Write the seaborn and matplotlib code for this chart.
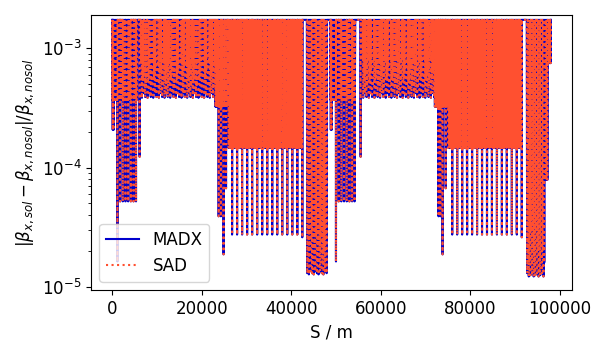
import numpy as np
import pandas as pd
import matplotlib
matplotlib.use('Agg')
import matplotlib.pyplot as plt
import seaborn as sns


####
#   Values
####
TOP = 1.73e-3          # upper turning point of the beat, all round the ring

# oscillating stretches: start / end in S (m) and the lower turning points they cycle through
band_start = [0, 6400, 23000, 25900, 43500, 48700, 55800, 72000, 75000, 92600, 96600, 97300]
band_end = [5600, 23000, 25800, 42600, 48000, 54300, 72000, 74900, 91600, 96600, 97300, 98000]
band_lows = [
    [3.69e-4],
    [7.5e-4, 3.84e-4, 5.5e-4, 4.2e-4, 6.5e-4, 3.9e-4, 4.8e-4],
    [3.23e-4],
    [1.46e-4],
    [1.3e-5, 1.6e-5, 1.27e-5, 2.0e-5, 1.35e-5, 2.6e-5],
    [3.69e-4],
    [8.0e-4, 3.84e-4, 5.5e-4, 4.2e-4, 6.5e-4, 3.9e-4, 4.8e-4],
    [3.23e-4],
    [1.46e-4],
    [1.3e-5, 2.0e-5, 1.22e-5, 1.6e-5, 1.25e-5, 3.0e-5],
    [7.9e-5],
    [7.5e-4],
]

# single dips: position in S (m) and how deep they go
dip_s = [150, 350, 1200, 1800, 2400, 3000, 3600, 4200, 4800, 5350, 6150,
         23800, 24300, 24900, 25450,
         26800, 27920, 29040, 30160, 31280, 32400, 33520, 34640, 35760, 36880,
         38000, 39120, 40240, 41360, 42480,
         48850, 49050, 50000, 50600, 51200, 51800, 52400, 53000, 53600, 54150, 55500,
         72900, 73300, 73800, 74500,
         75950, 77060, 78170, 79280, 80390, 81500, 82610, 83720, 84830, 85940,
         87050, 88160, 89270, 90380, 91490]
dip_depth = [2.07e-4, 2.07e-4, 1.63e-5, 5.2e-5, 5.2e-5, 5.2e-5, 5.2e-5, 5.2e-5, 5.2e-5, 5.2e-5, 1.23e-4,
             3.9e-5, 3.9e-5, 1.87e-5, 6.7e-5,
             2.74e-5, 2.74e-5, 2.74e-5, 2.74e-5, 2.74e-5, 2.74e-5, 2.74e-5, 2.74e-5, 2.74e-5, 2.74e-5,
             2.74e-5, 2.74e-5, 2.74e-5, 2.74e-5, 2.6e-5,
             2.07e-4, 2.07e-4, 1.63e-5, 5.2e-5, 5.2e-5, 5.2e-5, 5.2e-5, 5.2e-5, 5.2e-5, 5.2e-5, 1.23e-4,
             3.9e-5, 3.9e-5, 1.87e-5, 6.7e-5,
             2.74e-5, 2.74e-5, 2.74e-5, 2.74e-5, 2.74e-5, 2.74e-5, 2.74e-5, 2.74e-5, 2.74e-5, 2.74e-5,
             2.74e-5, 2.74e-5, 2.74e-5, 2.74e-5, 2.6e-5]


###
#   Build the beat curve
###
pts = []
for s0, s1, lows in zip(band_start, band_end, band_lows):
    n = int(round((s1 - s0) / 90.0))
    for k, sk in enumerate(np.linspace(s0, s1, n + 1)):
        pts.append((sk, TOP if k % 2 == 0 else lows[(k // 2) % len(lows)]))
    if n % 2 == 1:
        pts.append((s1 + 1, TOP))

for s, d in zip(dip_s, dip_depth):
    pts += [(s - 40, TOP), (s, d), (s + 40, TOP)]

df = pd.DataFrame(pts, columns=['S', 'beat']).sort_values('S', kind='stable')


###
#   Plot
###
plt.rcParams['font.size'] = 12

fig, ax = plt.subplots(figsize=(5.94, 3.46), dpi=100)
fig.subplots_adjust(left=91/594, right=572/594, top=1 - 15/346, bottom=1 - 290/346)

sns.lineplot(data=df, x='S', y='beat', ax=ax, color='mediumblue', linewidth=1.5,
             estimator=None, sort=False, label='MADX')
sns.lineplot(data=df, x='S', y='beat', ax=ax, color='#ff5030', linewidth=1.5,
             linestyle=':', estimator=None, sort=False, label='SAD')

ax.set_yscale('log')
ax.set_xlim(-4700, 102700)
ax.set_ylim(9.4e-6, 1.9e-3)

ax.set_xlabel('S / m')
ax.set_ylabel(r'$|\beta_{x,sol} - \beta_{x,nosol}|/\beta_{x,nosol}$')
ax.legend(loc='lower left')

fig.savefig('out.png', dpi=100)
